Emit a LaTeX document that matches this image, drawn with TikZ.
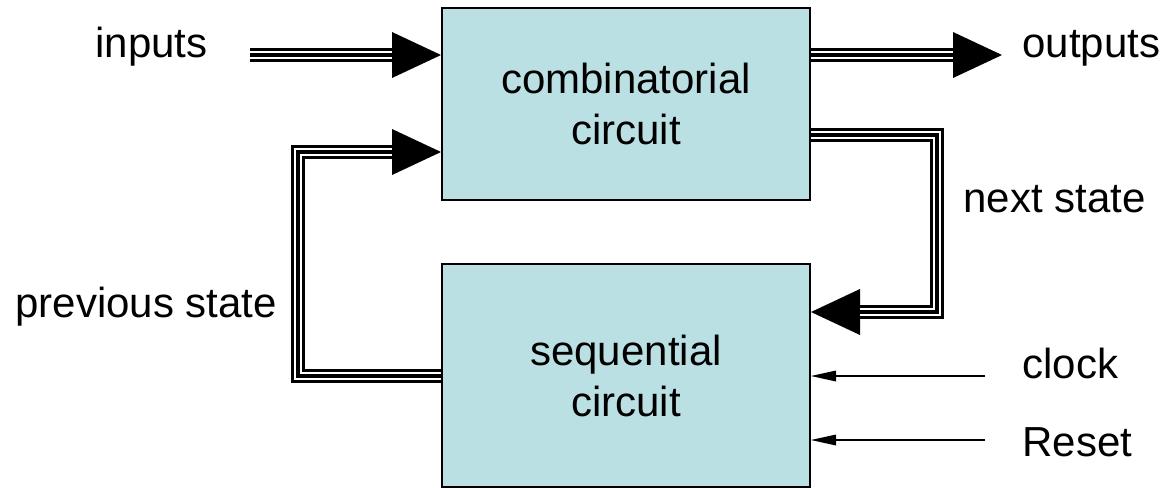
\documentclass[tikz,border=0pt]{standalone}
\usepackage{fontspec}
\setmainfont{Liberation Sans}
\usetikzlibrary{arrows.meta}
\definecolor{boxfill}{HTML}{BBE0E3}
\tikzset{
  block/.style={draw,line width=1pt,fill=boxfill,minimum width=184pt,align=center},
  % three parallel wires: black, white, black
  bus/.style={line width=7pt,line join=miter,
    postaction={draw=white,line width=4pt,arrows=-,shorten >=#1},
    postaction={draw=black,line width=1.8pt,arrows=-,shorten >=#1}},
  bus/.default=0pt,
  busarrow/.style={bus=24.5pt,-{Triangle[length=24.5pt,width=23pt,line width=0pt]}},
  wire/.style={line width=0.85pt,-{Triangle[length=12.5pt,width=5.5pt,line width=0pt]}},
  lbl/.style={inner sep=0pt}
}
\begin{document}
\begin{tikzpicture}
[x=0.5pt,y=-0.5pt,%
  every node/.style={font=\fontsize{21}{25.5}\selectfont}]
\useasboundingbox (0,0) rectangle (1164,488);

\node[block,minimum height=96pt] (comb) at (626,104) {combinatorial\\circuit};
\node[block,minimum height=111.5pt] (seq) at (626,375.5) {sequential\\circuit};

\coordinate (inA) at (250,55);
\coordinate (outB) at (1002,55);
\coordinate (nsA) at (937,135);
\coordinate (nsB) at (937,312);
\coordinate (psA) at (298,376);
\coordinate (psB) at (298,152);
\coordinate (clk) at (985,376);
\coordinate (rst) at (985,440);

% buses
\draw[busarrow] (inA) -- (inA -| comb.west);
\draw[busarrow] (outB -| comb.east) -- (outB);
\draw[busarrow] (nsA -| comb.east) -- (nsA) -- (nsB) -- (nsB -| seq.east);
\draw[busarrow] (psA -| seq.west) -- (psA) -- (psB) -- (psB -| comb.west);

% control lines
\draw[wire] (clk) -- (clk -| seq.east);
\draw[wire] (rst) -- (rst -| seq.east);

\node[lbl,anchor=base west] (lin) at (95,57) {inputs};
\node[lbl,anchor=base west] (lout) at (1022,57) {outputs};
\node[lbl,anchor=base west] (lns) at (963,212) {next state};
\node[lbl,anchor=base west] (lps) at (15,317) {previous state};
\node[lbl,anchor=base west] (lclk) at (1022,378) {clock};
\node[lbl,anchor=base west] (lrst) at (1022,456) {Reset};
\end{tikzpicture}
\end{document}
